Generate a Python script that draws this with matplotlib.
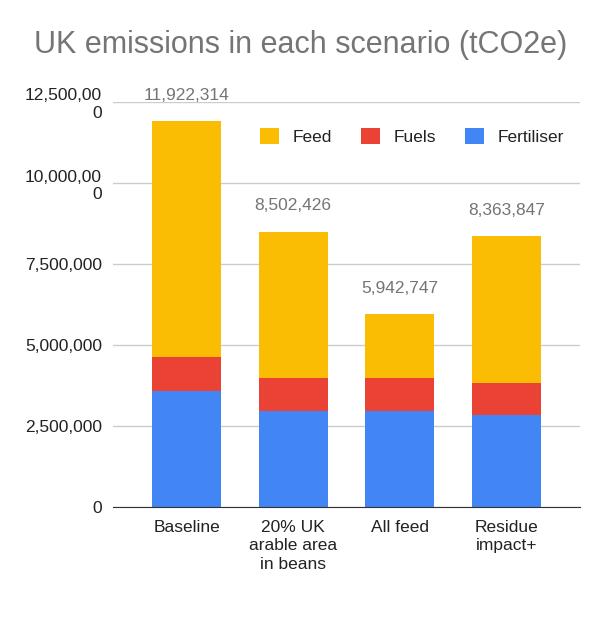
import matplotlib.pyplot as plt
from matplotlib.ticker import FixedLocator

plt.rcParams['font.family'] = ['Liberation Sans', 'DejaVu Sans']

# data (tCO2e)
scenarios = ['Baseline', '20% UK\narable area\nin beans', 'All feed', 'Residue\nimpact+']
totals = [11922314, 8502426, 5942747, 8363847]
fertiliser = [3580000, 2960000, 2960000, 2840000]
fuels = [1050000, 1020000, 1020000, 990000]
feed = [t - a - b for t, a, b in zip(totals, fertiliser, fuels)]
total_labels = ['11,922,314', '8,502,426', '5,942,747', '8,363,847']

y_ticks = [0, 2500000, 5000000, 7500000, 10000000, 12500000]
y_tick_labels = ['0', '2,500,000', '5,000,000', '7,500,000', '10,000,00\n0', '12,500,00\n0']

c_feed = '#fbbc04'
c_fuels = '#ea4335'
c_fert = '#4285f4'

fig = plt.figure(figsize=(6.02, 6.38), dpi=100)
ax = fig.add_axes([113 / 602, 131 / 638, 467 / 602, 405 / 638])

x = list(range(len(scenarios)))
w = 0.65
ax.bar(x, fertiliser, w, color=c_fert, label='Fertiliser', zorder=3)
ax.bar(x, fuels, w, bottom=fertiliser, color=c_fuels, label='Fuels', zorder=3)
bottoms = [a + b for a, b in zip(fertiliser, fuels)]
ax.bar(x, feed, w, bottom=bottoms, color=c_feed, label='Feed', zorder=3)

for i, t in enumerate(totals):
    ax.annotate(total_labels[i], (x[i], t), xytext=(0, 13), textcoords='offset points',
                ha='center', va='bottom', fontsize=12.5, color='#757575')

ax.set_xlim(-0.69, 3.69)
ax.set_ylim(0, 12500000)
ax.yaxis.set_major_locator(FixedLocator(y_ticks))
ax.set_yticklabels(y_tick_labels, fontsize=12.5, color='#222222', linespacing=1.2)
ax.set_xticks(x)
ax.set_xticklabels(scenarios, fontsize=12.5, color='#222222', linespacing=1.3, va='top')
ax.tick_params(axis='both', length=0)
ax.tick_params(axis='y', pad=8)
ax.tick_params(axis='x', pad=9)

ax.grid(axis='y', color='#cccccc', linewidth=1, zorder=0)
for s in ['top', 'right', 'left']:
    ax.spines[s].set_visible(False)
ax.spines['bottom'].set_color('#333333')
ax.spines['bottom'].set_zorder(4)

handles, labels = ax.get_legend_handles_labels()
order = [2, 1, 0]
ax.legend([handles[i] for i in order], [labels[i] for i in order], ncol=3,
          loc='upper right', bbox_to_anchor=(1.0, 0.975), frameon=False,
          fontsize=12.5, handlelength=1.1, handleheight=1.1, columnspacing=1.65,
          handletextpad=0.8, labelcolor='#222222')

fig.text(0.5, 1 - 45 / 638, 'UK emissions in each scenario (tCO2e)', ha='center', va='center',
         fontsize=22, color='#757575')

fig.savefig('out.png', dpi=100)
